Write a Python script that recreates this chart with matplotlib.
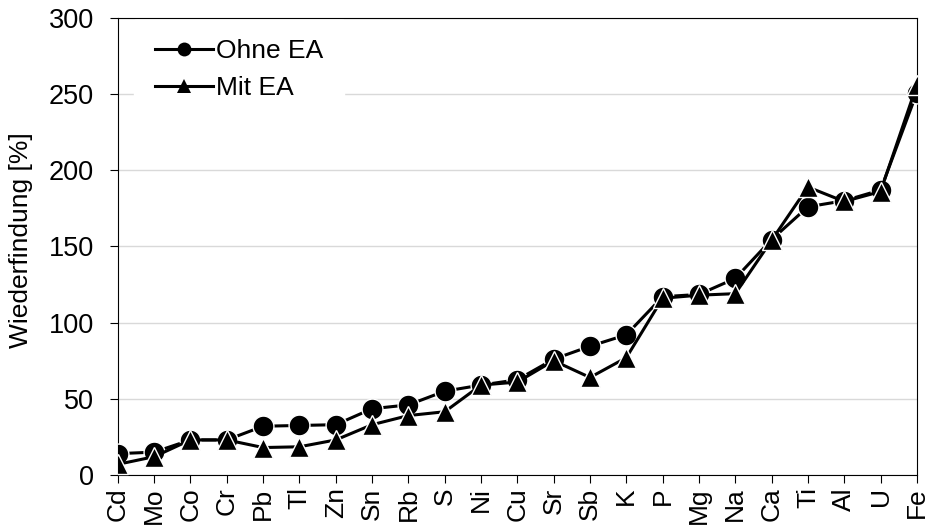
import numpy as np
import matplotlib.pyplot as plt

plt.rcParams['font.family'] = ['Liberation Sans', 'DejaVu Sans']

elemente = ["Cd", "Mo", "Co", "Cr", "Pb", "Tl", "Zn", "Sn", "Rb", "S", "Ni", "Cu",
            "Sr", "Sb", "K", "P", "Mg", "Na", "Ca", "Ti", "Al", "U", "Fe"]
ohne_ea = [14, 15, 23, 23, 32, 32.5, 33, 43.5, 46, 55, 59, 62.5,
           76, 84.5, 92, 117, 118.5, 129, 154.5, 176, 180, 187, 251]
mit_ea = [7, 12, 23, 23, 18, 18.5, 23, 33, 39, 41.5, 59, 61,
          75, 64, 77, 116, 118, 119, 154, 189, 179.5, 186, 256]

fig = plt.figure(figsize=(9.28, 5.26), dpi=100)
ax = fig.add_axes([0.127, 0.097, 0.861, 0.869])

x = np.arange(len(elemente))
ax.plot(x, ohne_ea, color="black", lw=2.2, marker="o", ms=15,
        mfc="black", mec="white", mew=1, label="Ohne EA", zorder=3)
ax.plot(x, mit_ea, color="black", lw=2.2, marker="^", ms=15,
        mfc="black", mec="white", mew=1, label="Mit EA", zorder=4)

ax.set_xlim(0, len(elemente) - 1)
ax.set_ylim(0, 300)
ax.set_yticks(range(0, 301, 50))
ax.set_xticks(x)
ax.set_xticklabels(elemente, rotation=90, fontsize=19)
ax.tick_params(axis="y", labelsize=19.5, direction="out", length=6, pad=11)
ax.tick_params(axis="x", direction="out", length=6, pad=3)
ax.yaxis.grid(True, color="#d9d9d9", lw=1)
ax.set_axisbelow(True)
ax.set_ylabel("Wiederfindung [%]", fontsize=19)
ax.yaxis.set_label_coords(-0.106, 0.514)

leg = ax.legend(loc="upper left", bbox_to_anchor=(0.02, 1.0), fontsize=19,
                frameon=True, framealpha=1, edgecolor="white", facecolor="white",
                handlelength=2.2, handletextpad=0.1, borderaxespad=0, borderpad=0.8,
                labelspacing=0.5)
leg.set_zorder(2)
for h in leg.legend_handles:
    h.set_markersize(10)
    h.set_markeredgewidth(0)

fig.savefig("out.png", dpi=100)
